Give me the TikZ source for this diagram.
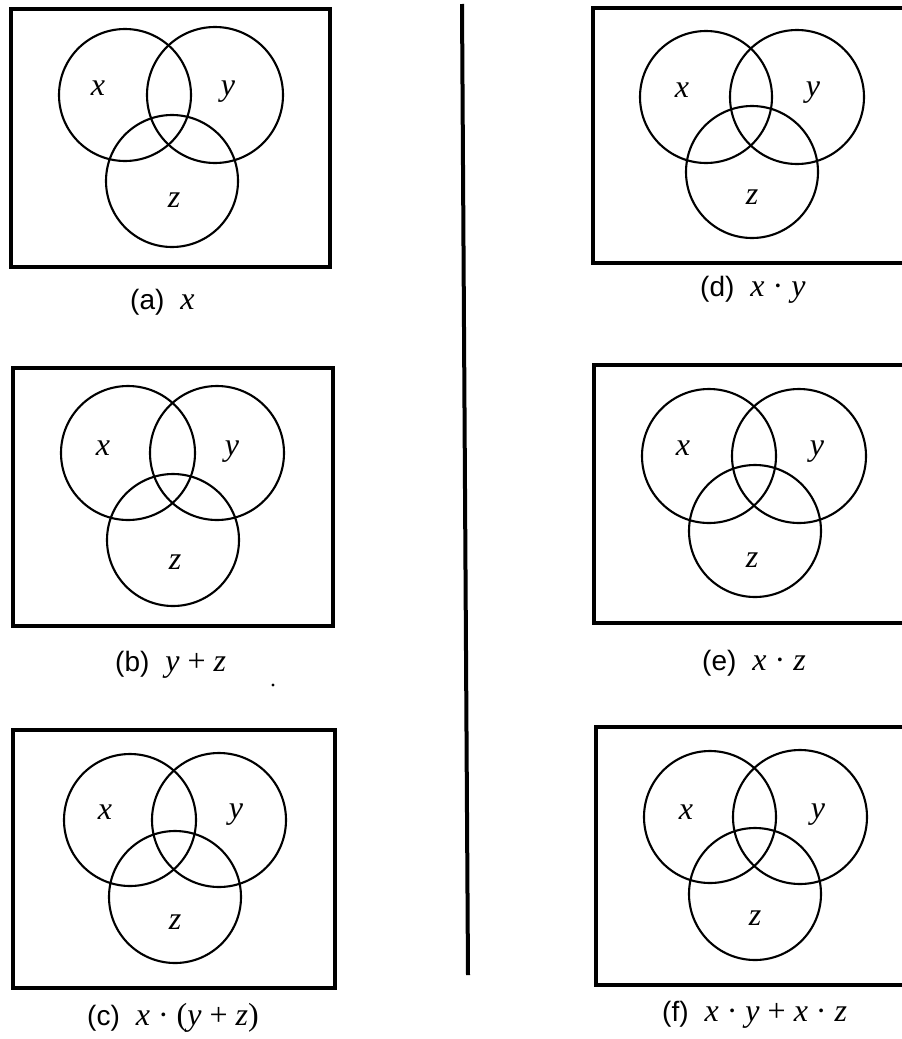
\documentclass[tikz,border=0pt]{standalone}
\usepackage{fontspec}
\setmainfont{Liberation Serif}
\setsansfont{Liberation Sans}
\tikzset{
  frame/.style={line width=3.8pt},
  ring/.style={line width=2.1pt},
  lbl/.style={inner sep=0pt, font=\fontsize{32}{32}\selectfont\itshape},
  captxt/.style={anchor=west, inner sep=0pt, font=\fontsize{32}{32}\selectfont},
  sepline/.style={line width=4pt}
}
\newcommand\Vv[1]{\textit{#1}}
\newcommand\Pp[1]{{\sffamily\fontsize{28}{28}\selectfont (#1)}\hspace{16pt}}
\begin{document}
\begin{tikzpicture}[x=1pt,y=-1pt]
\useasboundingbox (0,0) rectangle (902,1039);
% separator
\coordinate (st) at (462,4);
\coordinate (sb) at (468,975);
\draw[sepline] (st) -- (sb);

% (a)
\draw[frame] (11,9) rectangle (330,267);
\draw[ring] (125,95) circle (66);
\draw[ring] (215,95) circle (68);
\draw[ring] (172,181) circle (66);
\node[lbl] (ax) at (98,88) {x};
\node[lbl] (ay) at (228,92) {y};
\node[lbl] (az) at (174,200) {z};
\node[captxt] (ac) at (130,302) {\Pp{a}\Vv{x}};

% (b)
\draw[frame] (13,368) rectangle (333,626);
\draw[ring] (128,453) circle (67);
\draw[ring] (217,453) circle (67);
\draw[ring] (173,540) circle (66);
\node[lbl] (bx) at (103,448) {x};
\node[lbl] (by) at (232,452) {y};
\node[lbl] (bz) at (175,562) {z};
\node[captxt] (bc) at (115,665) {\Pp{b}\Vv{y} + \Vv{z}};
\fill (273,685) circle (1.6);

% (c)
\draw[frame] (13,730) rectangle (335,988);
\draw[ring] (130,820) circle (66);
\draw[ring] (219,820) circle (67);
\draw[ring] (175,897) circle (66);
\node[lbl] (cx) at (105,812) {x};
\node[lbl] (cy) at (236,815) {y};
\node[lbl] (cz) at (175,922) {z};
\node[captxt] (cc) at (87,1018) {\Pp{c}\Vv{x} · (\Vv{y} + \Vv{z})};

% (d)
\draw[frame] (593,8) rectangle (911,263);
\draw[ring] (706,97) circle (66);
\draw[ring] (797,97) circle (67);
\draw[ring] (752,172) circle (66);
\node[lbl] (dx) at (682,90) {x};
\node[lbl] (dy) at (813,93) {y};
\node[lbl] (dz) at (752,197) {z};
\node[captxt] (dc) at (700,290) {\Pp{d}\Vv{x} · \Vv{y}};

% (e)
\draw[frame] (594,365) rectangle (912,623);
\draw[ring] (709,456) circle (67);
\draw[ring] (799,456) circle (67);
\draw[ring] (755,531) circle (66);
\node[lbl] (ex) at (683,448) {x};
\node[lbl] (ey) at (817,452) {y};
\node[lbl] (ez) at (752,560) {z};
\node[captxt] (ec) at (702,663) {\Pp{e}\Vv{x} · \Vv{z}};

% (f)
\draw[frame] (596,727) rectangle (914,985);
\draw[ring] (710,817) circle (66);
\draw[ring] (800,817) circle (67);
\draw[ring] (755,894) circle (66);
\node[lbl] (fx) at (686,812) {x};
\node[lbl] (fy) at (818,815) {y};
\node[lbl] (fz) at (755,918) {z};
\node[captxt] (fc) at (662,1015) {\Pp{f}\Vv{x} · \Vv{y} + \Vv{x} · \Vv{z}};
\end{tikzpicture}
\end{document}
